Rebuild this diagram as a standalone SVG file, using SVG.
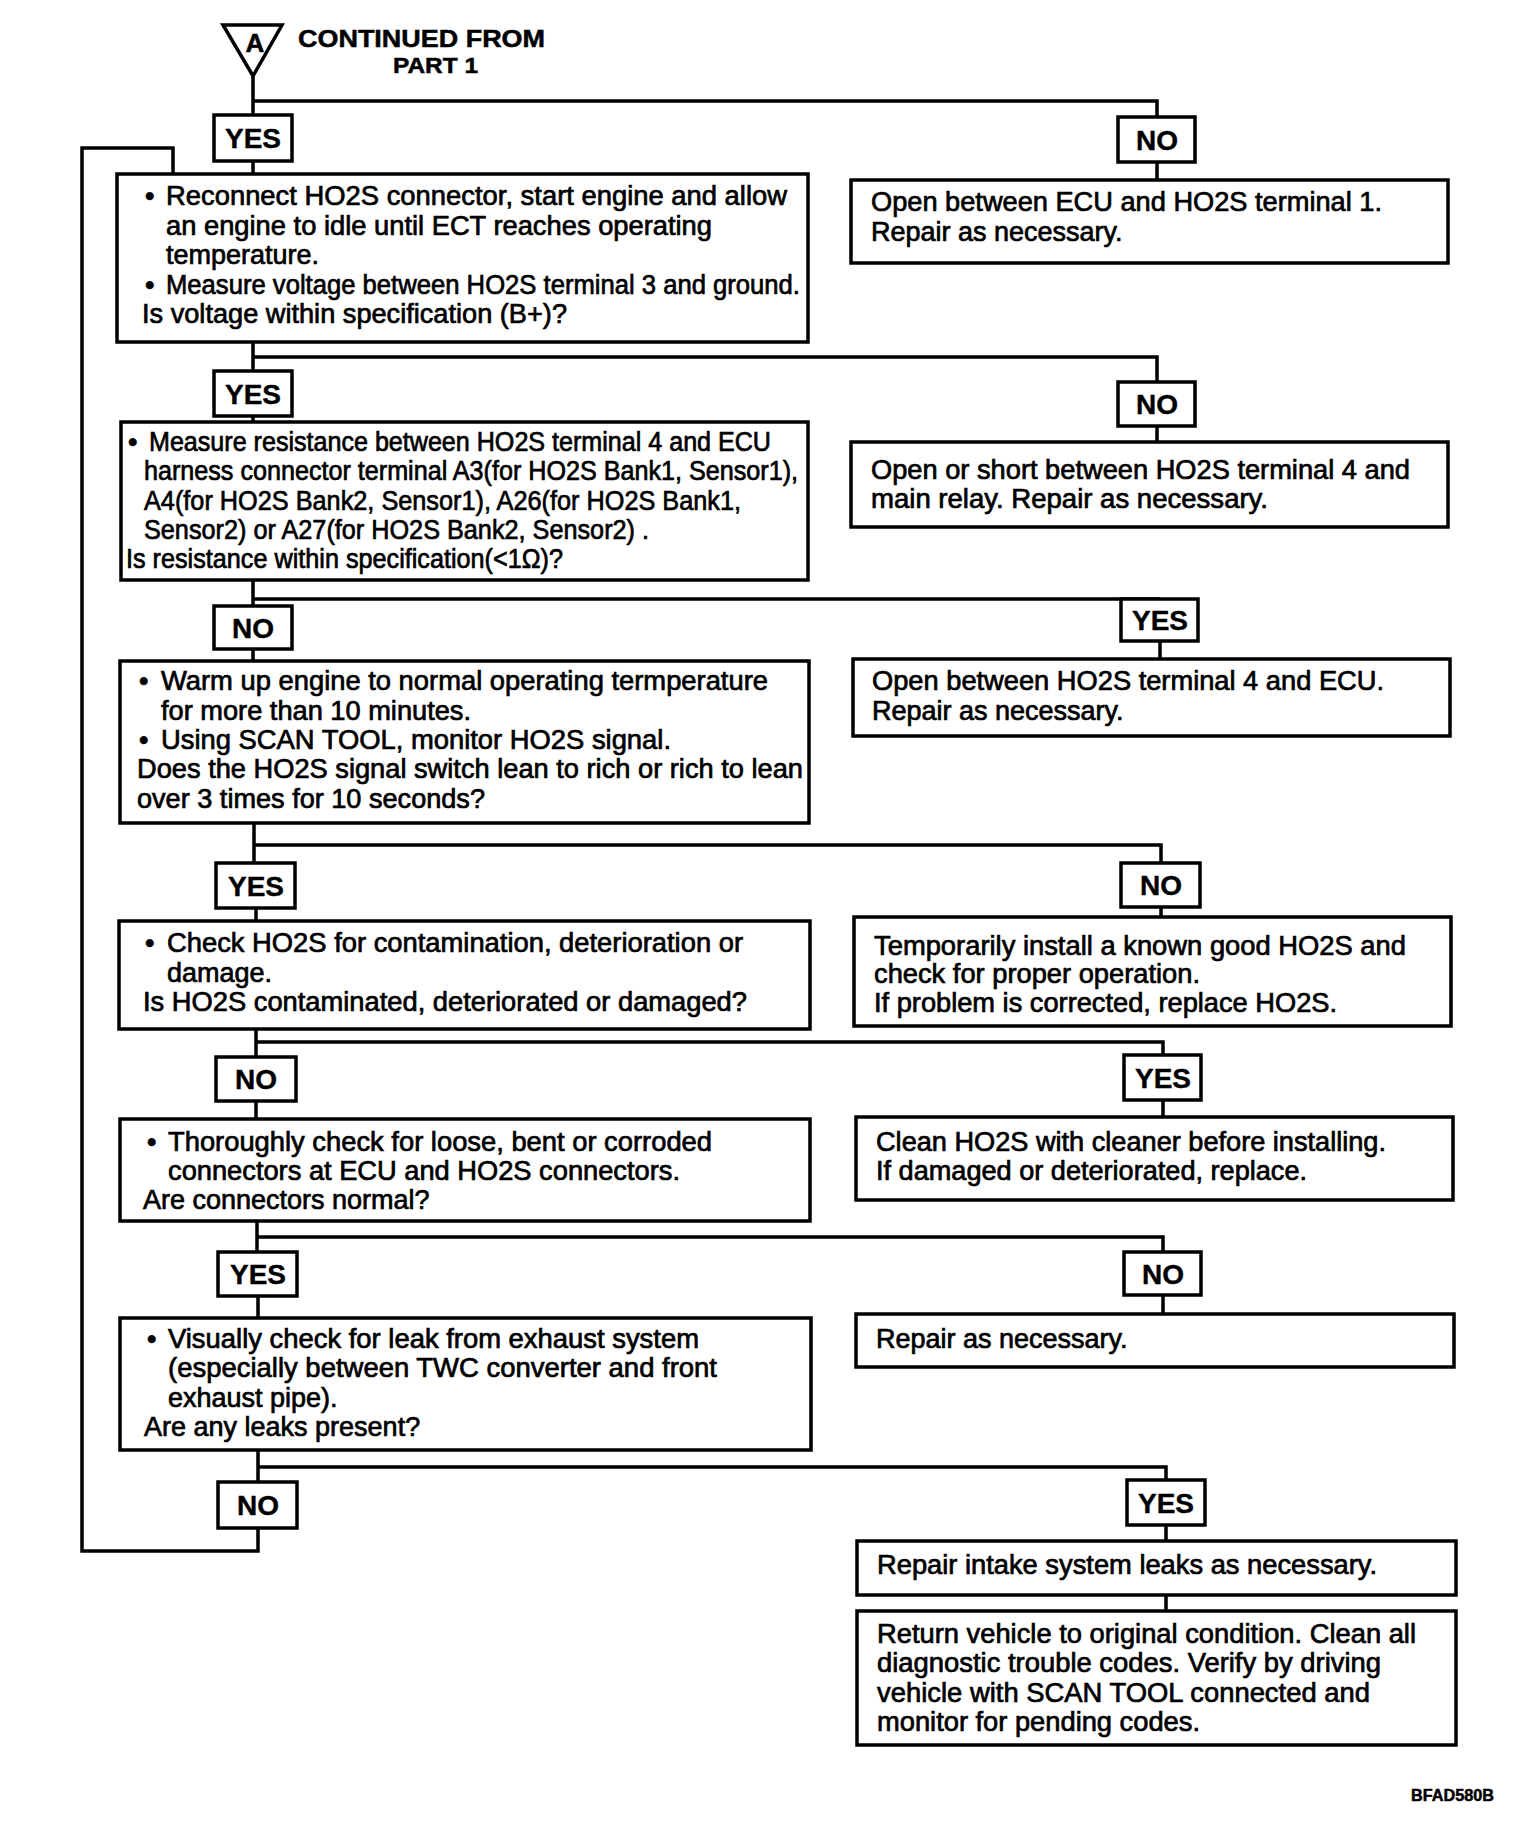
<svg xmlns="http://www.w3.org/2000/svg" width="1536" height="1842" viewBox="0 0 1536 1842">
<style>
.bx{fill:#fff;stroke:#000;stroke-width:3.5}
.lb{fill:#fff;stroke:#000;stroke-width:3.5}
.ln{fill:none;stroke:#000;stroke-width:3.5}
.t{font-family:"Liberation Sans",Arial,sans-serif;font-size:27px;fill:#000;stroke:#000;stroke-width:0.7}
.lt{font-family:"Liberation Sans",Arial,sans-serif;font-size:28px;font-weight:bold;fill:#000;stroke:#000;stroke-width:0.4;text-anchor:middle}
.h{font-family:"Liberation Sans",Arial,sans-serif;font-weight:bold;fill:#000;stroke:#000;stroke-width:0.5}
</style>
<rect width="1536" height="1842" fill="#fff"/>
<g id="connectors">
<path class="ln" d="M253,75 V115 M253,101 H1157 V117 M1157,162 V180 M253,161 V174"/>
<path class="ln" d="M253,342 V371 M253,357 H1157 V382 M1157,426 V442 M253,416 V422"/>
<path class="ln" d="M253,580 V606 M253,599 H1160 M1160,641 V659 M253,649 V661"/>
<path class="ln" d="M254,823 V863 M254,845 H1161 V863 M1161,907 V917 M256,908 V921"/>
<path class="ln" d="M256,1029 V1057 M256,1042 H1163 V1055 M1163,1100 V1117 M256,1101 V1119"/>
<path class="ln" d="M257,1221 V1252 M257,1237 H1163 V1252 M1163,1295 V1314 M258,1296 V1318"/>
<path class="ln" d="M258,1450 V1482 M258,1467 H1166 V1480 M1166,1525 V1541 M1166,1595 V1611"/>
<path class="ln" d="M258,1528 V1551 H82 V148 H173 V174"/>
</g>
<g id="start">
<polygon points="223,25 282,25 253,76" fill="#fff" stroke="#000" stroke-width="3.5" stroke-linejoin="miter"/>
<text class="h" x="255" y="52" font-size="26" text-anchor="middle">A</text>
<text class="h" x="298" y="47" font-size="24" textLength="247" lengthAdjust="spacingAndGlyphs">CONTINUED FROM</text>
<text class="h" x="393" y="73" font-size="22" textLength="85" lengthAdjust="spacingAndGlyphs">PART 1</text>
</g>
<g id="lbl-yes1"><rect class="lb" x="214" y="115" width="78" height="46"/><text class="lt" x="253" y="148">YES</text></g>
<g id="lbl-no1"><rect class="lb" x="1118" y="117" width="77" height="45"/><text class="lt" x="1157" y="150">NO</text></g>
<g id="lbl-yes2"><rect class="lb" x="214" y="371" width="78" height="45"/><text class="lt" x="253" y="404">YES</text></g>
<g id="lbl-no2"><rect class="lb" x="1118" y="382" width="77" height="44"/><text class="lt" x="1157" y="414">NO</text></g>
<g id="lbl-no3"><rect class="lb" x="214" y="606" width="78" height="43"/><text class="lt" x="253" y="638">NO</text></g>
<g id="lbl-yes3"><rect class="lb" x="1121" y="599" width="77" height="42"/><text class="lt" x="1160" y="630">YES</text></g>
<g id="lbl-yes4"><rect class="lb" x="216" y="863" width="79" height="45"/><text class="lt" x="256" y="896">YES</text></g>
<g id="lbl-no4"><rect class="lb" x="1121" y="863" width="79" height="44"/><text class="lt" x="1161" y="895">NO</text></g>
<g id="lbl-no5"><rect class="lb" x="216" y="1057" width="80" height="44"/><text class="lt" x="256" y="1089">NO</text></g>
<g id="lbl-yes5"><rect class="lb" x="1124" y="1055" width="77" height="45"/><text class="lt" x="1163" y="1088">YES</text></g>
<g id="lbl-yes6"><rect class="lb" x="218" y="1252" width="79" height="44"/><text class="lt" x="258" y="1284">YES</text></g>
<g id="lbl-no6"><rect class="lb" x="1124" y="1252" width="77" height="43"/><text class="lt" x="1163" y="1284">NO</text></g>
<g id="lbl-no7"><rect class="lb" x="218" y="1482" width="79" height="46"/><text class="lt" x="258" y="1515">NO</text></g>
<g id="lbl-yes7"><rect class="lb" x="1127" y="1480" width="78" height="45"/><text class="lt" x="1166" y="1513">YES</text></g>

<g id="box1">
<rect class="bx" x="117" y="174" width="691" height="168"/>
<text class="t" x="145" y="205">•</text>
<text class="t" x="166" y="205" textLength="621" lengthAdjust="spacingAndGlyphs">Reconnect HO2S connector, start engine and allow</text>
<text class="t" x="166" y="235" textLength="546" lengthAdjust="spacingAndGlyphs">an engine to idle until ECT reaches operating</text>
<text class="t" x="166" y="264">temperature.</text>
<text class="t" x="145" y="294">•</text>
<text class="t" x="166" y="294" textLength="634" lengthAdjust="spacingAndGlyphs">Measure voltage between HO2S terminal 3 and ground.</text>
<text class="t" x="142" y="323" textLength="425" lengthAdjust="spacingAndGlyphs">Is voltage within specification (B+)?</text>
</g>
<g id="box1-no">
<rect class="bx" x="851" y="180" width="597" height="83"/>
<text class="t" x="871" y="211" textLength="511" lengthAdjust="spacingAndGlyphs">Open between ECU and HO2S terminal 1.</text>
<text class="t" x="871" y="241">Repair as necessary.</text>
</g>

<g id="box2">
<rect class="bx" x="121" y="422" width="687" height="158"/>
<text class="t" x="128" y="451">•</text>
<text class="t" x="149" y="451" textLength="622" lengthAdjust="spacingAndGlyphs">Measure resistance between HO2S terminal 4 and ECU</text>
<text class="t" x="144" y="480" textLength="654" lengthAdjust="spacingAndGlyphs">harness connector terminal A3(for HO2S Bank1, Sensor1),</text>
<text class="t" x="144" y="510" textLength="597" lengthAdjust="spacingAndGlyphs">A4(for HO2S Bank2, Sensor1), A26(for HO2S Bank1,</text>
<text class="t" x="144" y="539" textLength="505" lengthAdjust="spacingAndGlyphs">Sensor2) or A27(for HO2S Bank2, Sensor2) .</text>
<text class="t" x="126" y="568" textLength="437" lengthAdjust="spacingAndGlyphs">Is resistance within specification(&lt;1Ω)?</text>
</g>
<g id="box2-no">
<rect class="bx" x="851" y="442" width="597" height="85"/>
<text class="t" x="871" y="479" textLength="539" lengthAdjust="spacingAndGlyphs">Open or short between HO2S terminal 4 and</text>
<text class="t" x="871" y="508" textLength="397" lengthAdjust="spacingAndGlyphs">main relay. Repair as necessary.</text>
</g>

<g id="box3">
<rect class="bx" x="120" y="661" width="689" height="162"/>
<text class="t" x="139" y="690">•</text>
<text class="t" x="161" y="690" textLength="607" lengthAdjust="spacingAndGlyphs">Warm up engine to normal operating termperature</text>
<text class="t" x="161" y="720" textLength="310" lengthAdjust="spacingAndGlyphs">for more than 10 minutes.</text>
<text class="t" x="139" y="749">•</text>
<text class="t" x="161" y="749" textLength="510" lengthAdjust="spacingAndGlyphs">Using SCAN TOOL, monitor HO2S signal.</text>
<text class="t" x="137" y="778" textLength="666" lengthAdjust="spacingAndGlyphs">Does the HO2S signal switch lean to rich or rich to lean</text>
<text class="t" x="137" y="808" textLength="348" lengthAdjust="spacingAndGlyphs">over 3 times for 10 seconds?</text>
</g>
<g id="box3-yes">
<rect class="bx" x="853" y="659" width="597" height="77"/>
<text class="t" x="872" y="690" textLength="512" lengthAdjust="spacingAndGlyphs">Open between HO2S terminal 4 and ECU.</text>
<text class="t" x="872" y="720">Repair as necessary.</text>
</g>

<g id="box4">
<rect class="bx" x="119" y="921" width="691" height="108"/>
<text class="t" x="145" y="952">•</text>
<text class="t" x="167" y="952" textLength="576" lengthAdjust="spacingAndGlyphs">Check HO2S for contamination, deterioration or</text>
<text class="t" x="167" y="982">damage.</text>
<text class="t" x="143" y="1011" textLength="604" lengthAdjust="spacingAndGlyphs">Is HO2S contaminated, deteriorated or damaged?</text>
</g>
<g id="box4-no">
<rect class="bx" x="854" y="917" width="597" height="109"/>
<text class="t" x="874" y="955" textLength="532" lengthAdjust="spacingAndGlyphs">Temporarily install a known good HO2S and</text>
<text class="t" x="874" y="983" textLength="326" lengthAdjust="spacingAndGlyphs">check for proper operation.</text>
<text class="t" x="874" y="1012" textLength="463" lengthAdjust="spacingAndGlyphs">If problem is corrected, replace HO2S.</text>
</g>

<g id="box5">
<rect class="bx" x="120" y="1119" width="690" height="102"/>
<text class="t" x="147" y="1151">•</text>
<text class="t" x="168" y="1151" textLength="544" lengthAdjust="spacingAndGlyphs">Thoroughly check for loose, bent or corroded</text>
<text class="t" x="168" y="1180" textLength="512" lengthAdjust="spacingAndGlyphs">connectors at ECU and HO2S connectors.</text>
<text class="t" x="143" y="1209">Are connectors normal?</text>
</g>
<g id="box5-yes">
<rect class="bx" x="856" y="1117" width="597" height="83"/>
<text class="t" x="876" y="1151" textLength="510" lengthAdjust="spacingAndGlyphs">Clean HO2S with cleaner before installing.</text>
<text class="t" x="876" y="1180" textLength="431" lengthAdjust="spacingAndGlyphs">If damaged or deteriorated, replace.</text>
</g>

<g id="box6">
<rect class="bx" x="120" y="1318" width="691" height="132"/>
<text class="t" x="147" y="1348">•</text>
<text class="t" x="168" y="1348" textLength="531" lengthAdjust="spacingAndGlyphs">Visually check for leak from exhaust system</text>
<text class="t" x="168" y="1377" textLength="549" lengthAdjust="spacingAndGlyphs">(especially between TWC converter and front</text>
<text class="t" x="168" y="1407">exhaust pipe).</text>
<text class="t" x="144" y="1436">Are any leaks present?</text>
</g>
<g id="box6-no">
<rect class="bx" x="856" y="1314" width="598" height="53"/>
<text class="t" x="876" y="1348">Repair as necessary.</text>
</g>

<g id="box7-yes">
<rect class="bx" x="857" y="1541" width="599" height="54"/>
<text class="t" x="877" y="1574" textLength="500" lengthAdjust="spacingAndGlyphs">Repair intake system leaks as necessary.</text>
</g>
<g id="box8">
<rect class="bx" x="857" y="1611" width="599" height="134"/>
<text class="t" x="877" y="1643" textLength="539" lengthAdjust="spacingAndGlyphs">Return vehicle to original condition. Clean all</text>
<text class="t" x="877" y="1672" textLength="504" lengthAdjust="spacingAndGlyphs">diagnostic trouble codes. Verify by driving</text>
<text class="t" x="877" y="1702" textLength="493" lengthAdjust="spacingAndGlyphs">vehicle with SCAN TOOL connected and</text>
<text class="t" x="877" y="1731" textLength="323" lengthAdjust="spacingAndGlyphs">monitor for pending codes.</text>
</g>
<text class="h" x="1411" y="1801" font-size="16" textLength="83" lengthAdjust="spacingAndGlyphs">BFAD580B</text>
</svg>
